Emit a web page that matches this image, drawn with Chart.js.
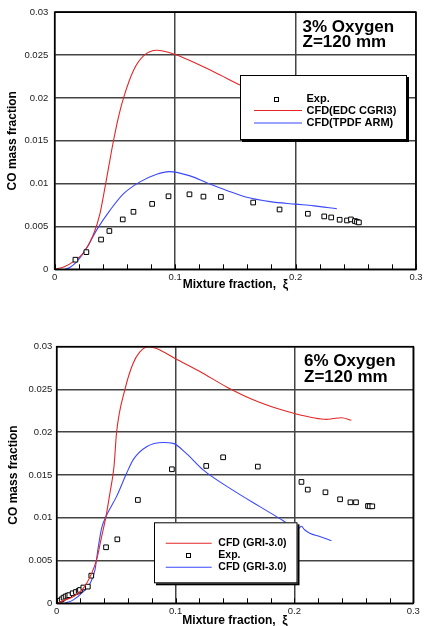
<!DOCTYPE html>
<html><head><meta charset="utf-8">
<script src="https://cdn.jsdelivr.net/npm/chart.js@4"></script>
<style>
html,body{margin:0;padding:0;background:#fff;overflow:hidden;width:425px;height:626px}
.c{position:absolute;left:0;width:425px;height:300px}
</style></head><body>
<div class="c" style="top:0"><canvas id="c1" width="425" height="300"></canvas></div>
<div class="c" style="top:330px"><canvas id="c2" width="425" height="300"></canvas></div>
<script>
// ---------- data ----------
const xTickLabels = ['0', '0.1', '0.2', '0.3'];
const yTickLabels = ['0', '0.005', '0.01', '0.015', '0.02', '0.025', '0.03'];

// Top panel: 3% Oxygen
const top3Exp = [[0.0172,0.00112],[0.0263,0.0020],[0.0385,0.00347],[0.0454,0.00447],[0.0565,0.00582],
  [0.0654,0.00671],[0.0809,0.00763],[0.0945,0.00852],[0.1119,0.00875],[0.1235,0.00848],[0.138,0.00844],
  [0.1648,0.00779],[0.1867,0.00698],[0.2102,0.00648],[0.2238,0.00617],[0.2296,0.00605],[0.2366,0.00578],
  [0.2427,0.0057],[0.246,0.00582],[0.2493,0.00563],[0.251,0.00555],[0.2526,0.00547]];
const top3EDC = [[0,0],[0.008,0.0003],[0.0155,0.0009],[0.0238,0.0019],[0.032,0.0040],[0.0376,0.0065],
  [0.0418,0.0096],[0.0445,0.0117],[0.0488,0.0150],[0.0530,0.0178],[0.0576,0.0202],[0.0654,0.0232],
  [0.0737,0.0249],[0.0848,0.02556],[0.1,0.02506],[0.1208,0.0238],[0.137,0.0227],[0.154,0.0215],
  [0.19,0.0196],[0.23,0.0180]];
const top3TPDF = [[0.0086,0],[0.0125,0.0002],[0.0183,0.0009],[0.0266,0.0025],[0.0349,0.0046],[0.046,0.0069],
  [0.057,0.0088],[0.0708,0.0102],[0.0847,0.0111],[0.095,0.0114],[0.1124,0.0109],[0.1262,0.0101],
  [0.1429,0.0092],[0.1595,0.0084],[0.1788,0.0079],[0.2,0.0076],[0.215,0.0074],[0.2343,0.00706]];

// Bottom panel: 6% Oxygen
const bot6Exp = [[0.0006,0.0000],[0.0025,0.0003],[0.0042,0.00047],[0.0058,0.00066],[0.0075,0.0008],
  [0.0092,0.0009],[0.0106,0.00095],[0.0134,0.00117],[0.0162,0.00132],[0.0185,0.00145],[0.0196,0.00156],
  [0.0224,0.00185],[0.0262,0.00195],[0.0291,0.00323],[0.0415,0.00655],[0.051,0.00748],[0.0683,0.01208],
  [0.0969,0.01567],[0.1258,0.01606],[0.14,0.01707],[0.1692,0.01598],[0.2059,0.01419],[0.2112,0.01329],
  [0.2261,0.01298],[0.2384,0.01216],[0.2471,0.01181],[0.2518,0.01181],[0.2619,0.01138],[0.2633,0.01134],
  [0.2655,0.01134]];
const bot6Red = [[0,0],[0.007,0.0004],[0.014,0.00078],[0.0224,0.00175],[0.0294,0.0035],[0.0336,0.0051],
  [0.0378,0.0078],[0.0414,0.0101],[0.0448,0.0129],[0.0482,0.0160],[0.0504,0.0200],[0.0574,0.0250],
  [0.0644,0.0281],[0.07,0.0294],[0.077,0.0300],[0.084,0.0298],[0.1,0.0286],[0.1204,0.0271],[0.1429,0.0253],
  [0.1653,0.0238],[0.1849,0.0228],[0.2,0.0222],[0.2157,0.0217],[0.2269,0.0215],[0.2325,0.0216],
  [0.2395,0.0217],[0.2479,0.0214]];
const bot6Blue = [[0.007,0],[0.014,0.0004],[0.0224,0.00136],[0.028,0.0023],[0.0322,0.0039],[0.035,0.0066],
  [0.0378,0.0088],[0.042,0.0103],[0.0504,0.0125],[0.0588,0.0152],[0.0644,0.0168],[0.0756,0.0183],
  [0.0896,0.0188],[0.098,0.0187],[0.1092,0.0175],[0.1232,0.0156],[0.1485,0.0132],[0.1709,0.0113],
  [0.1877,0.0099],[0.1918,0.00954],[0.198,0.0090],[0.203,0.0087],[0.2059,0.0090],[0.2085,0.0086],
  [0.2129,0.0082],[0.2213,0.0078],[0.2311,0.00732]];

// ---------- styling ----------
const RED = '#e42626', BLUE = '#3a48ff';
const FONT = 'Arial, "Liberation Sans", Helvetica, sans-serif';
const toPts = a => a.map(p => ({x: p[0], y: p[1]}));

function lineDs(label, data, color) {
  return {label, data: toPts(data), showLine: true, borderColor: color, borderWidth: 1.1,
    pointRadius: 0, pointHoverRadius: 0, fill: false, cubicInterpolationMode: 'monotone'};
}
function expDs(label, data) {
  return {label, data: toPts(data), showLine: false, pointStyle: 'rect', pointRadius: 3.3,
    borderColor: '#000', borderWidth: 1, backgroundColor: '#fff'};
}

const decor = {
  id: 'decor',
  afterDatasetsDraw(chart, args, o) {
    const ctx = chart.ctx, a = chart.chartArea, xs = chart.scales.x;
    ctx.save();
    // minor ticks on bottom axis
    ctx.strokeStyle = '#000'; ctx.lineWidth = 1;
    xs.ticks.forEach(t => {
      const px = Math.round(xs.getPixelForValue(t.value)) + 0.5;
      ctx.beginPath(); ctx.moveTo(px, a.bottom); ctx.lineTo(px, a.bottom - 5); ctx.stroke();
    });
    // frame
    ctx.lineWidth = 1.6; ctx.strokeStyle = '#000';
    ctx.strokeRect(a.left, a.top, a.right - a.left, a.bottom - a.top);
    // annotation
    ctx.fillStyle = '#000';
    ctx.font = 'bold 17px ' + FONT;
    ctx.textBaseline = 'alphabetic'; ctx.textAlign = 'left';
    o.note.forEach((s, i) => ctx.fillText(s, o.noteX, o.noteY[i]));
    // legend
    const b = o.box;
    ctx.fillStyle = '#000';
    ctx.fillRect(b.x + 2, b.y + 2, b.w, b.h);
    ctx.fillStyle = '#fff';
    ctx.fillRect(b.x, b.y, b.w, b.h);
    ctx.lineWidth = 1; ctx.strokeStyle = '#000';
    ctx.strokeRect(b.x + 0.5, b.y + 0.5, b.w - 1, b.h - 1);
    ctx.font = 'bold ' + o.legFont + 'px ' + FONT;
    ctx.textBaseline = 'middle';
    o.items.forEach((idx, i) => {
      const ds = chart.data.datasets[idx], y = o.itemY[i];
      if (ds.showLine) {
        ctx.strokeStyle = ds.borderColor; ctx.lineWidth = 1.1;
        ctx.beginPath(); ctx.moveTo(o.lineX[0], y); ctx.lineTo(o.lineX[1], y); ctx.stroke();
      } else {
        ctx.strokeStyle = '#000'; ctx.lineWidth = 1;
        ctx.strokeRect(Math.round(o.pointX) - 2 + 0.5, Math.round(y) - 2 + 0.5, 4, 4);
      }
      ctx.fillStyle = '#000';
      ctx.fillText(ds.label, o.textX, y);
    });
    ctx.restore();
  }
};

function makeChart(id, datasets, geo, deco) {
  return new Chart(document.getElementById(id), {
    type: 'scatter',
    data: {datasets},
    plugins: [decor],
    options: {
      responsive: false, animation: false, devicePixelRatio: 1,
      layout: {padding: {left: 0, top: geo.top, right: geo.right, bottom: 0}},
      plugins: {legend: {display: false}, tooltip: {enabled: false}, decor: deco},
      scales: {
        x: {
          type: 'linear', min: 0, max: 0.3,
          afterFit: s => { s.height = geo.xh; },
          border: {display: false},
          grid: {drawTicks: false, lineWidth: 1.5,
            color: c => { const k = Math.round(c.tick.value * 50); return k % 5 === 0 ? '#444' : 'rgba(0,0,0,0)'; }},
          ticks: {stepSize: 0.02, autoSkip: false, maxRotation: 0, padding: 2, color: '#222',
            font: {family: FONT, size: 9.5},
            callback: v => { const k = Math.round(v * 50); return k % 5 === 0 ? xTickLabels[k / 5] : ''; }},
          title: {display: true, text: 'Mixture fraction,  ξ', color: '#000',
            font: {family: FONT, size: 12, weight: 'bold'}, padding: {top: 0, bottom: geo.xtp}}
        },
        y: {
          type: 'linear', min: 0, max: 0.03,
          afterFit: s => { s.width = geo.yw; },
          border: {display: false},
          grid: {drawTicks: false, lineWidth: 1.5, color: '#444'},
          ticks: {stepSize: 0.005, padding: geo.ypad, color: '#222', font: {family: FONT, size: 9.5},
            callback: v => yTickLabels[Math.round(v / 0.005)]},
          title: {display: true, text: 'CO mass fraction', color: '#000',
            font: {family: FONT, size: 12, weight: 'bold'}, padding: {top: geo.ytp, bottom: 0}}
        }
      }
    }
  });
}

makeChart('c1',
  [expDs('Exp.', top3Exp), lineDs('CFD(EDC CGRI3)', top3EDC, RED), lineDs('CFD(TPDF ARM)', top3TPDF, BLUE)],
  {top: 10, right: 9, xh: 30.7, yw: 54.7, ypad: 6.5, xtp: 7.8, ytp: 5.3},
  {note: ['3% Oxygen', 'Z=120 mm'], noteX: 302.5, noteY: [31.7, 47],
   box: {x: 240, y: 75, w: 167, h: 65}, items: [0, 1, 2], itemY: [99, 110.5, 123],
   lineX: [254, 302], pointX: 276, textX: 306.5, legFont: 11});

makeChart('c2',
  [lineDs('CFD (GRI-3.0)', bot6Red, RED), expDs('Exp.', bot6Exp), lineDs('CFD (GRI-3.0)', bot6Blue, BLUE)],
  {top: 16.7, right: 11.7, xh: 26.7, yw: 56.7, ypad: 4.4, xtp: 1.8, ytp: 6.5},
  {note: ['6% Oxygen', 'Z=120 mm'], noteX: 304, noteY: [36, 51.7],
   box: {x: 154, y: 192.3, w: 143.5, h: 61}, items: [0, 1, 2], itemY: [213.3, 225.3, 237.3],
   lineX: [165.7, 211.7], pointX: 188.3, textX: 218.3, legFont: 10.5});
</script>
</body></html>
